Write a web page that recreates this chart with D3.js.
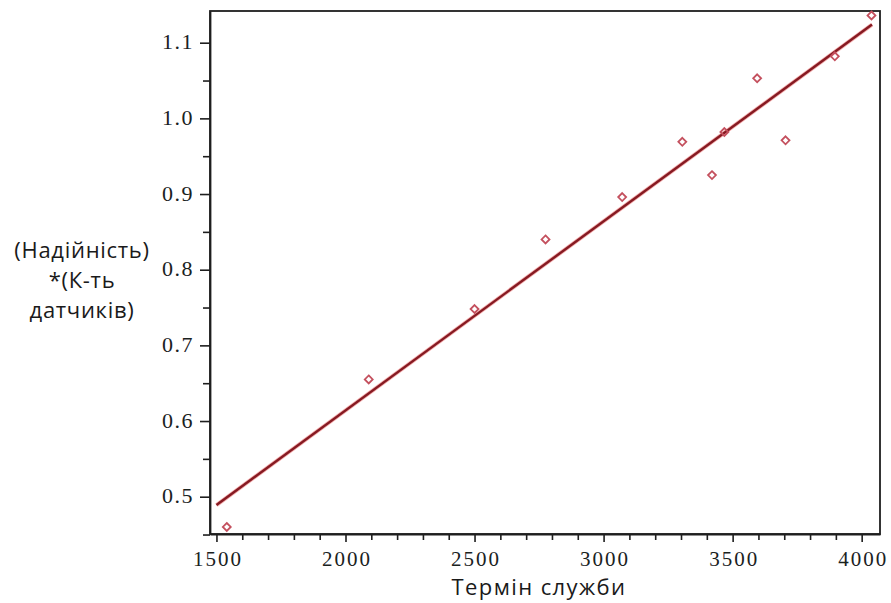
<!DOCTYPE html>
<html>
<head>
<meta charset="utf-8">
<script src="https://cdn.jsdelivr.net/npm/d3@7"></script>
<style>
  html, body { margin: 0; padding: 0; background: #fff; }
  svg { display: block; }
  .serif { font-family: "Liberation Serif", "Times New Roman", "DejaVu Serif", serif; }
  .sans { font-family: "Open Sans", "Noto Sans", sans-serif; }
</style>
</head>
<body>
<svg id="chart" width="891" height="603"></svg>
<script>
// Data
const serviceLife = [1540, 2090, 2500, 2775, 3072, 3305, 3420, 3468, 3595, 3705, 3896, 4038];
const reliability = [0.460, 0.655, 0.748, 0.840, 0.896, 0.969, 0.925, 0.982, 1.053, 0.971, 1.082, 1.136];
const fitX = [1500, 4040];
const fitY = [0.489, 1.124];
const xTicks = [1500, 2000, 2500, 3000, 3500, 4000];
const yTicks = [0.5, 0.6, 0.7, 0.8, 0.9, 1.0, 1.1];
const xTitle = "Термін служби";
const yTitleLines = ["(Надійність)", "*(К-ть", "датчиків)"];

const svg = d3.select("#chart");
const L = 210, R = 880, T = 11, B = 534;

const x = d3.scaleLinear().domain([1475, 4071]).range([L, R]);
const y = d3.scaleLinear().domain([0.4507, 1.1419]).range([B, T]);

// frame
svg.append("rect").attr("x", L).attr("y", T).attr("width", R - L).attr("height", B - T)
  .attr("fill", "none").attr("stroke", "#1e1e1e").attr("stroke-width", 1.8);

// minor ticks
const xMinor = d3.range(1500, 4001, 100).filter(v => v % 500 !== 0);
const yMinor = d3.range(0.45, 1.14, 0.1).map(v => +v.toFixed(2));

const xAxis = svg.append("g").attr("transform", `translate(0,${B})`)
  .call(d3.axisBottom(x).tickValues(xTicks).tickFormat(d3.format("d")).tickSize(8).tickSizeOuter(0));
svg.append("g").attr("transform", `translate(0,${B})`)
  .call(d3.axisBottom(x).tickValues(xMinor).tickFormat("").tickSize(6).tickSizeOuter(0))
  .call(g => g.select(".domain").remove());

const yAxis = svg.append("g").attr("transform", `translate(${L},0)`)
  .call(d3.axisLeft(y).tickValues(yTicks).tickFormat(d3.format(".1f")).tickSize(10).tickSizeOuter(0));
svg.append("g").attr("transform", `translate(${L},0)`)
  .call(d3.axisLeft(y).tickValues(yMinor).tickFormat("").tickSize(7).tickSizeOuter(0))
  .call(g => g.select(".domain").remove());

svg.selectAll(".tick line").attr("stroke", "#1e1e1e").attr("stroke-width", 1.6);
svg.selectAll(".domain").attr("stroke", "#1e1e1e").attr("stroke-width", 1.8);
xAxis.selectAll(".tick text").attr("class", "serif").attr("font-family", null)
  .attr("font-size", 21).attr("letter-spacing", "2px")
  .attr("fill", "#1a221e").attr("y", 32).attr("dy", null).attr("dx", "1px");
yAxis.selectAll(".tick text").attr("class", "serif").attr("font-family", null)
  .attr("font-size", 22).attr("letter-spacing", "1.5px")
  .attr("fill", "#1a221e").attr("x", -16).attr("dy", "0.28em");
svg.selectAll("g").attr("font-family", null);

// fit line
svg.append("line")
  .attr("x1", x(fitX[0])).attr("y1", y(fitY[0]))
  .attr("x2", x(fitX[1])).attr("y2", y(fitY[1]))
  .attr("stroke", "#f4b0b0").attr("stroke-width", 4);
svg.append("line")
  .attr("x1", x(fitX[0])).attr("y1", y(fitY[0]))
  .attr("x2", x(fitX[1])).attr("y2", y(fitY[1]))
  .attr("stroke", "#861a22").attr("stroke-width", 2.4);

// points (open diamonds)
const sym = d3.symbol().type(d3.symbolDiamond2).size(40);
svg.append("g").selectAll("path").data(serviceLife).join("path")
  .attr("transform", (d, i) => `translate(${x(d)},${y(reliability[i])})`)
  .attr("d", sym)
  .attr("fill", "none").attr("stroke", "#c4505e").attr("stroke-width", 1.8);

// titles
svg.append("text").attr("class", "sans").attr("x", 539).attr("y", 595)
  .attr("text-anchor", "middle").attr("font-size", 22).attr("letter-spacing", "1.4px")
  .attr("fill", "#1a1a1a").text(xTitle);

svg.append("g").selectAll("text").data(yTitleLines).join("text")
  .attr("class", "sans")
  .attr("x", 82).attr("y", (d, i) => 258 + i * 30)
  .attr("text-anchor", "middle").attr("font-size", 22).attr("letter-spacing", "0.7px")
  .attr("fill", "#1a1a1a").text(d => d);
</script>
</body>
</html>
